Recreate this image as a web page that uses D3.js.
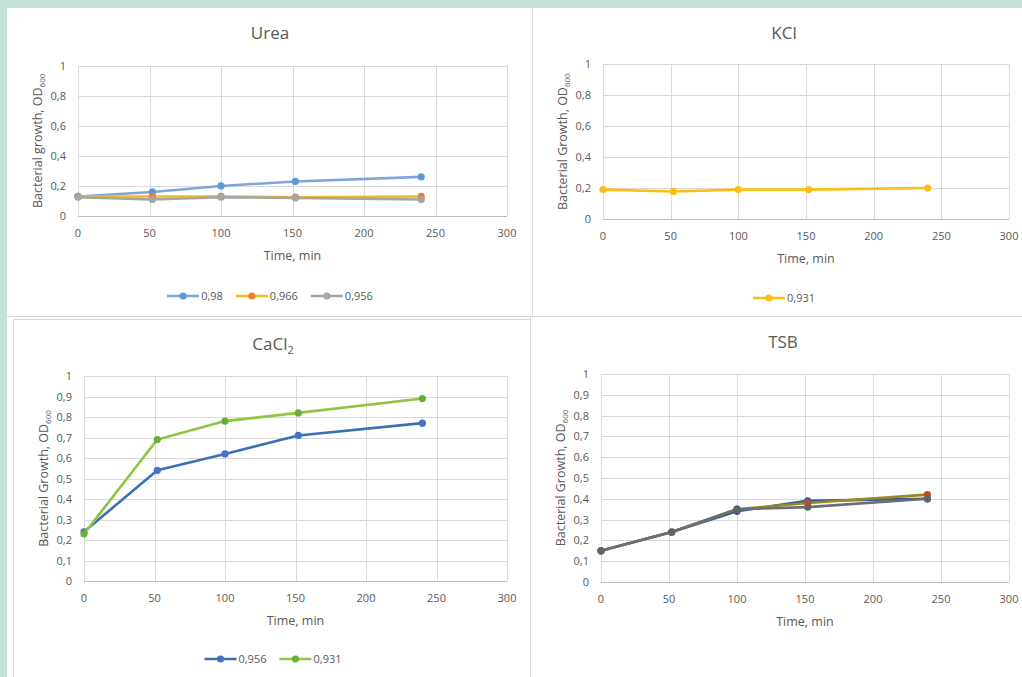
<!DOCTYPE html>
<html>
<head>
<meta charset="utf-8">
<script src="https://cdn.jsdelivr.net/npm/d3@7"></script>
<style>
  html, body { margin: 0; padding: 0; background: #c2e3d5; }
  svg { display: block; }
  text { font-family: "Open Sans", "Noto Sans", sans-serif; fill: #595959; }
</style>
</head>
<body>
<svg id="chart" width="1022" height="677"></svg>
<script>
// Sampling times (min)
const timeMin = [0, 52, 100, 152, 240];

// Axis ticks
const xTicks = [0, 50, 100, 150, 200, 250, 300];
const yTicksCoarse = [0, 0.2, 0.4, 0.6, 0.8, 1];
const yTicksFine = [0, 0.1, 0.2, 0.3, 0.4, 0.5, 0.6, 0.7, 0.8, 0.9, 1];

// Urea
const ureaNames = ["0,98", "0,966", "0,956"];
const urea098 = [0.13, 0.16, 0.20, 0.23, 0.26];
const urea0966 = [0.13, 0.13, 0.13, 0.125, 0.13];
const urea0956 = [0.125, 0.11, 0.125, 0.12, 0.11];

// KCl
const kclNames = ["0,931"];
const kcl0931 = [0.19, 0.178, 0.19, 0.19, 0.20];

// CaCl2
const caclNames = ["0,956", "0,931"];
const cacl0956 = [0.24, 0.54, 0.62, 0.71, 0.77];
const cacl0931 = [0.23, 0.69, 0.78, 0.82, 0.89];

// TSB
const tsbA = [0.15, 0.24, 0.34, 0.39, 0.40];
const tsbB = [0.15, 0.24, 0.35, 0.38, 0.42];
const tsbC = [0.15, 0.24, 0.35, 0.36, 0.40];

const svg = d3.select("#chart");
const fmt = v => (v === 0 || v === 1) ? String(v) : d3.format(".1f")(v).replace(".", ",");

// panel backgrounds and dividers
svg.append("rect").attr("x", 7).attr("y", 8).attr("width", 1015).attr("height", 669).attr("fill", "#ffffff");
svg.append("rect").attr("x", 0).attr("y", 317).attr("width", 6).attr("height", 360).attr("fill", "#c2e3d5");
const divider = (x1, y1, x2, y2) => svg.append("line")
  .attr("x1", x1).attr("y1", y1).attr("x2", x2).attr("y2", y2)
  .attr("stroke", "#d9d9d9").attr("stroke-width", 1);
divider(532.5, 8, 532.5, 316);
divider(7, 316.5, 1022, 316.5);
divider(530.5, 317, 530.5, 677);
divider(13.5, 319.5, 530.5, 319.5);
divider(13.5, 319.5, 13.5, 677);

function drawPanel(p) {
  const g = svg.append("g");
  const x = d3.scaleLinear().domain([0, 300]).range([p.x0, p.x1]);
  const y = d3.scaleLinear().domain([0, 1]).range([p.yBot, p.yTop]);

  // gridlines
  g.append("g").selectAll("line.h").data(p.yTicks).join("line")
    .attr("x1", p.x0).attr("x2", p.x1)
    .attr("y1", d => Math.round(y(d)) + 0.5).attr("y2", d => Math.round(y(d)) + 0.5)
    .attr("stroke", d => d === 0 ? "#bfbfbf" : "#d9d9d9").attr("stroke-width", 1);
  g.append("g").selectAll("line.v").data(xTicks).join("line")
    .attr("y1", p.yTop).attr("y2", p.yBot)
    .attr("x1", d => Math.round(x(d)) + 0.5).attr("x2", d => Math.round(x(d)) + 0.5)
    .attr("stroke", "#d9d9d9").attr("stroke-width", 1);

  // tick labels
  g.append("g").selectAll("text").data(p.yTicks).join("text")
    .attr("x", p.x0 - 12).attr("y", d => y(d) + 4)
    .attr("text-anchor", "end").attr("font-size", 11).text(fmt);
  g.append("g").selectAll("text").data(xTicks).join("text")
    .attr("x", d => x(d)).attr("y", p.yBot + 21)
    .attr("text-anchor", "middle").attr("font-size", 11).text(d => d);

  // titles
  const t = g.append("text").attr("x", p.titleX).attr("y", p.titleY)
    .attr("text-anchor", "middle").attr("font-size", 17);
  t.append("tspan").text(p.title);
  if (p.titleSub) {
    t.append("tspan").attr("font-size", 11).attr("dy", 4).text(p.titleSub);
  }
  g.append("text").attr("x", (p.x0 + p.x1) / 2).attr("y", p.yBot + 44)
    .attr("text-anchor", "middle").attr("font-size", 12.5).text("Time, min");
  const yt = g.append("text")
    .attr("transform", `translate(${p.x0 - 36},${(p.yTop + p.yBot) / 2}) rotate(-90)`)
    .attr("text-anchor", "middle").attr("font-size", 12.5);
  yt.append("tspan").text(p.yLabel + ", OD");
  yt.append("tspan").attr("font-size", 8).attr("dy", 3).text("600");

  // series
  const line = d3.line().x((d, i) => x(timeMin[i])).y(d => y(d));
  p.series.forEach(s => {
    g.append("path").datum(s.values).attr("d", line)
      .attr("fill", "none").attr("stroke", s.line).attr("stroke-width", 2.6)
      .attr("stroke-linejoin", "round").attr("stroke-linecap", "round");
    g.append("g").selectAll("circle").data(s.values).join("circle")
      .attr("cx", (d, i) => x(timeMin[i])).attr("cy", d => y(d)).attr("r", 3.6)
      .attr("fill", s.marker);
  });

  // legend
  if (p.legend) {
    const lg = g.append("g");
    let cx = 0;
    const items = p.series.map(s => {
      const it = lg.append("g").attr("transform", `translate(${cx},0)`);
      it.append("line").attr("x1", 0).attr("x2", 32).attr("y1", 0).attr("y2", 0)
        .attr("stroke", s.line).attr("stroke-width", 2.6);
      it.append("circle").attr("cx", 16).attr("cy", 0).attr("r", 3.6).attr("fill", s.marker);
      const tx = it.append("text").attr("x", 34).attr("y", 4).attr("font-size", 11).text(s.name);
      cx += 34 + tx.node().getComputedTextLength() + 13;
      return it;
    });
    const w = cx - 13;
    lg.attr("transform", `translate(${p.titleX - w / 2},${p.legendY})`);
  }
}

drawPanel({
  title: "Urea", titleX: 270, titleY: 39,
  x0: 78, x1: 507, yTop: 65.7, yBot: 216, yTicks: yTicksCoarse,
  yLabel: "Bacterial growth", legend: true, legendY: 296,
  series: [
    { name: ureaNames[0], values: urea098, line: "#7ea5db", marker: "#5b9bd5" },
    { name: ureaNames[1], values: urea0966, line: "#f4ba1e", marker: "#ed7d31" },
    { name: ureaNames[2], values: urea0956, line: "#a5a5a5", marker: "#a5a5a5" }
  ]
});

drawPanel({
  title: "KCl", titleX: 784, titleY: 39,
  x0: 603, x1: 1009, yTop: 64.3, yBot: 219, yTicks: yTicksCoarse,
  yLabel: "Bacterial Growth", legend: true, legendY: 298,
  series: [
    { name: kclNames[0], values: kcl0931, line: "#fdbd12", marker: "#fdbd12" }
  ]
});

drawPanel({
  title: "CaCl", titleSub: "2", titleX: 273, titleY: 350,
  x0: 84, x1: 507, yTop: 376, yBot: 581, yTicks: yTicksFine,
  yLabel: "Bacterial Growth", legend: true, legendY: 659,
  series: [
    { name: caclNames[0], values: cacl0956, line: "#3b70b8", marker: "#4472c4" },
    { name: caclNames[1], values: cacl0931, line: "#8dc641", marker: "#6aae3a" }
  ]
});

drawPanel({
  title: "TSB", titleX: 783, titleY: 348,
  x0: 601, x1: 1009, yTop: 374, yBot: 582, yTicks: yTicksFine,
  yLabel: "Bacterial Growth", legend: false,
  series: [
    { name: "A", values: tsbA, line: "#2f5b9a", marker: "#2f5b9a" },
    { name: "B", values: tsbB, line: "#9a8722", marker: "#c0501a" },
    { name: "C", values: tsbC, line: "#6b6e72", marker: "#636363" }
  ]
});
</script>
</body>
</html>
